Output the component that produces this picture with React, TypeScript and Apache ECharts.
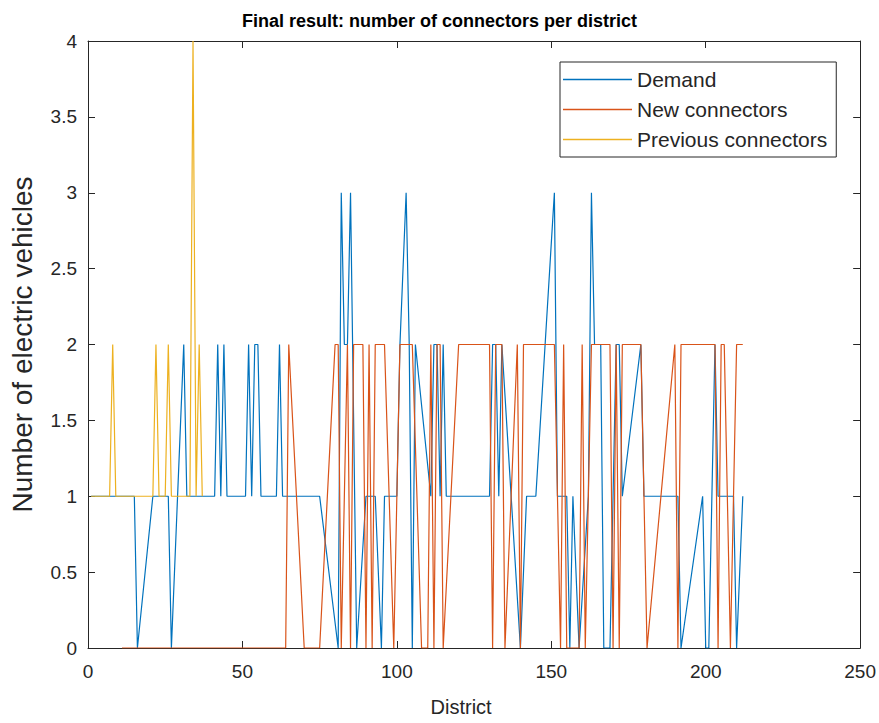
import React, { useEffect, useRef } from "react";
import * as echarts from "echarts";

// ---- Data ----
const demandX = [1, 15, 16, 21, 26, 27, 31, 32, 41, 42, 43, 44, 45, 51, 52, 53, 54, 55, 56, 61, 62, 63, 75, 81, 82, 83, 84, 85, 87, 90, 93, 95, 96, 100, 101, 103, 104, 105, 106, 111, 112, 113, 114, 115, 116, 130, 131, 132, 133, 134, 140, 142, 145, 151, 152, 155, 156, 157, 159, 162, 163, 164, 166, 167, 169, 170, 171, 172, 173, 179, 180, 191, 192, 199, 200, 201, 203, 204, 209, 210, 212];
const demandY = [1, 1, 0, 1, 1, 0, 2, 1, 1, 2, 1, 2, 1, 1, 2, 1, 2, 2, 1, 1, 2, 1, 1, 0, 3, 2, 2, 3, 0, 1, 1, 0, 1, 1, 2, 3, 2, 0, 2, 1, 2, 2, 1, 2, 1, 1, 2, 2, 1, 2, 0, 1, 1, 3, 1, 1, 0, 1, 0, 1, 3, 2, 2, 0, 0, 1, 2, 2, 1, 2, 1, 1, 0, 1, 0, 0, 2, 1, 1, 0, 1];

const newX = [11, 64, 65, 70, 75, 80, 81, 82, 84, 85, 86, 89, 90, 91, 92, 93, 96, 99, 101, 105, 108, 110, 111, 112, 113, 114, 115, 120, 130, 131, 132, 134, 135, 139, 140, 141, 151, 153, 154, 155, 159, 160, 161, 163, 169, 170, 171, 172, 173, 179, 181, 190, 191, 192, 203, 204, 205, 206, 208, 210, 212];
const newY = [0, 0, 2, 0, 0, 2, 2, 0, 2, 0, 2, 2, 0, 2, 0, 2, 2, 0, 2, 2, 0, 0, 2, 0, 2, 2, 0, 2, 2, 0, 2, 2, 0, 2, 0, 2, 2, 0, 2, 0, 0, 2, 0, 2, 2, 0, 2, 0, 2, 2, 0, 2, 0, 2, 2, 0, 2, 2, 0, 2, 2];

const prevX = [1, 7, 8, 9, 21, 22, 23, 25, 26, 27, 33, 34, 35, 36, 37];
const prevY = [1, 1, 2, 1, 1, 2, 1, 1, 2, 1, 1, 4, 1, 2, 1];

const seriesNames = ["Demand", "New connectors", "Previous connectors"];
const seriesColors = ["#0072BD", "#D95319", "#EDB120"];

const xMin = 0, xMax = 250, xStep = 50;
const yMin = 0, yMax = 4, yStep = 0.5;

const titleText = "Final result: number of connectors per district";
const xName = "District";
const yName = "Number of electric vehicles";

const FONT = "'Liberation Sans', Arial, Helvetica, sans-serif";
const AX = "#262626";

function pairs(xs: number[], ys: number[]) {
  return xs.map((x, i) => [x, ys[i]]);
}

export default function App() {
  const ref = useRef<HTMLDivElement>(null);
  useEffect(() => {
    if (!ref.current) return;
    const chart = echarts.init(ref.current, undefined, { renderer: "svg" });
    const common = {
      axisLine: { show: true, onZero: false, lineStyle: { color: AX, width: 1 } },
      axisTick: { show: true, inside: true, length: 7, lineStyle: { color: AX, width: 1 } },
      splitLine: { show: false },
    };
    const datasets = [pairs(demandX, demandY), pairs(newX, newY), pairs(prevX, prevY)];
    chart.setOption({
      animation: false,
      backgroundColor: "#ffffff",
      textStyle: { fontFamily: FONT },
      title: {
        text: titleText,
        left: "center",
        top: 7,
        textStyle: { fontFamily: FONT, fontWeight: "bold", fontSize: 18, color: "#000" },
      },
      grid: { left: 88, top: 41, width: 774, height: 607, containLabel: false },
      legend: {
        data: seriesNames,
        orient: "vertical",
        left: 560,
        top: 62,
        icon: "rect",
        itemWidth: 69,
        itemHeight: 1.5,
        itemGap: 9,
        padding: [7, 9, 7, 3],
        borderColor: AX,
        borderWidth: 1,
        backgroundColor: "#fff",
        textStyle: { fontFamily: FONT, fontSize: 21, color: AX },
      },
      xAxis: [
        {
          type: "value", min: xMin, max: xMax, interval: xStep, position: "bottom",
          ...common,
          axisLabel: { color: AX, fontSize: 19, margin: 14, fontFamily: FONT },
          name: xName, nameLocation: "middle", nameGap: 49,
          nameTextStyle: { color: AX, fontSize: 20, fontFamily: FONT, padding: [0, 26, 0, 0] },
        },
        {
          type: "value", min: xMin, max: xMax, interval: xStep, position: "top",
          ...common, axisLabel: { show: false },
        },
      ],
      yAxis: [
        {
          type: "value", min: yMin, max: yMax, interval: yStep, position: "left",
          ...common,
          axisLabel: { color: AX, fontSize: 19, margin: 11, fontFamily: FONT },
          name: yName, nameLocation: "middle", nameGap: 52, nameRotate: 90,
          nameTextStyle: { color: AX, fontSize: 28, fontFamily: FONT },
        },
        {
          type: "value", min: yMin, max: yMax, interval: yStep, position: "right",
          ...common, axisLabel: { show: false },
        },
      ],
      series: datasets.map((d, i) => ({
        name: seriesNames[i],
        type: "line",
        xAxisIndex: 0,
        yAxisIndex: 0,
        data: d,
        showSymbol: false,
        symbol: "none",
        clip: true,
        color: seriesColors[i],
        lineStyle: { width: 1.2, color: seriesColors[i] },
        itemStyle: { color: seriesColors[i] },
      })),
    });
    return () => chart.dispose();
  }, []);
  return (
    <div
      ref={ref}
      style={{ position: "fixed", left: 0, top: 0, width: 879, height: 723, background: "#fff" }}
    />
  );
}
